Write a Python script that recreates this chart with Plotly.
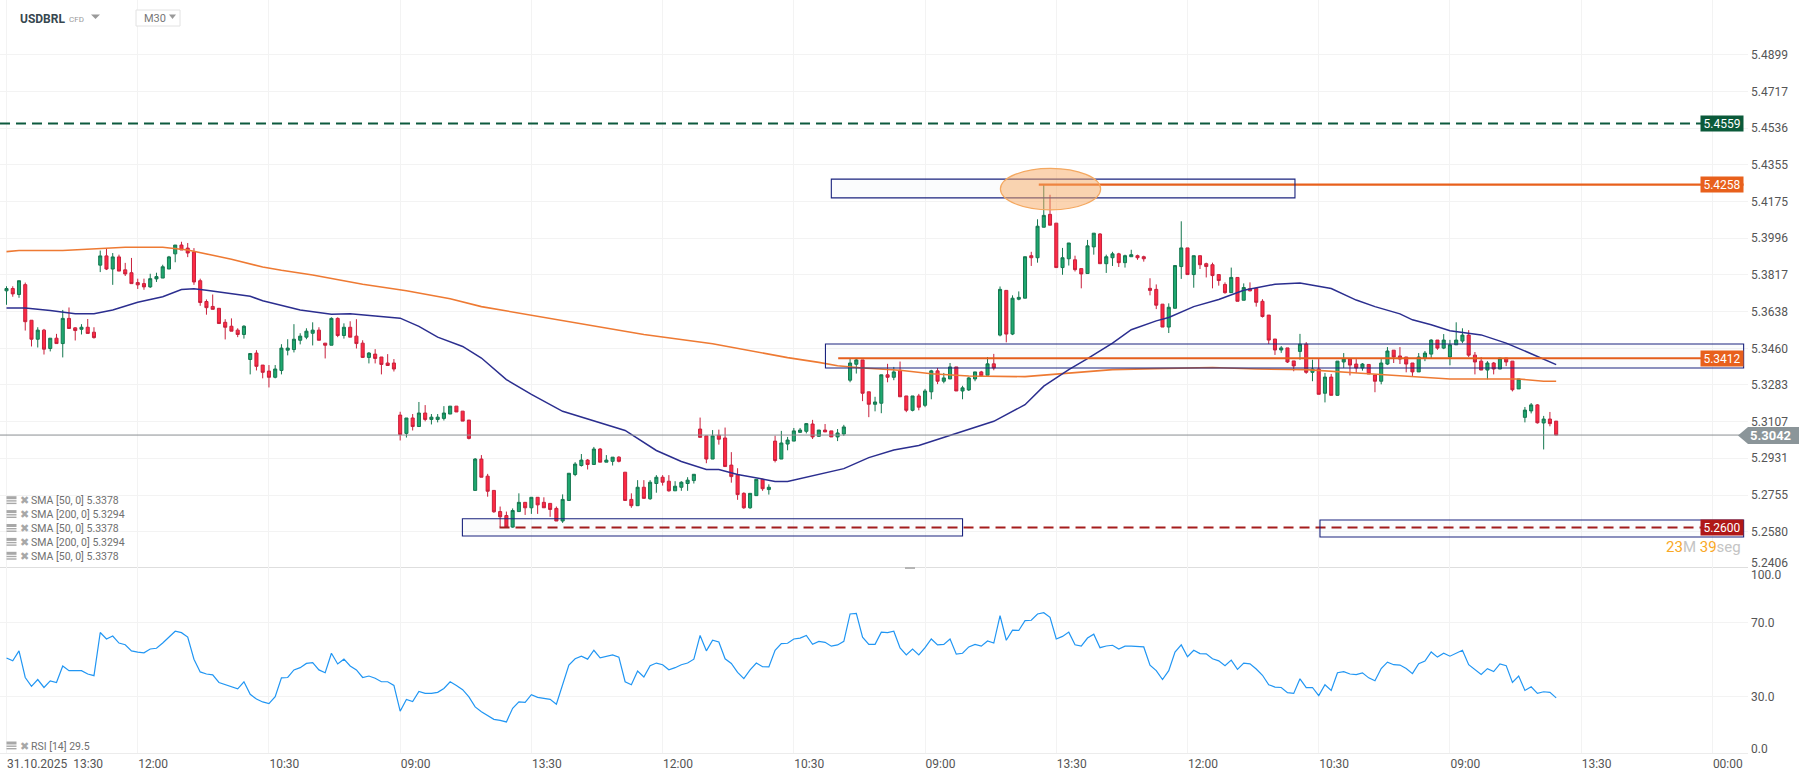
import math
import plotly.graph_objects as go

W, H = 1810, 779

open_ = [
    5.3739,5.3750,5.3721,5.3769,5.3596,5.3504,5.3548,5.3459,5.3509,5.3483,
    5.3605,5.3559,5.3552,5.3562,5.3538,5.3864,5.3909,5.3845,5.3904,5.3841,
    5.3827,5.3779,5.3774,5.3758,5.3797,5.3801,5.3845,5.3919,5.3962,5.3947,
    5.3928,5.3788,5.3687,5.3663,5.3654,5.3586,5.3567,5.3548,5.3527,5.3406,
    5.3437,5.3379,5.3350,5.3320,5.3353,5.3451,5.3454,5.3499,5.3514,5.3533,
    5.3548,5.3485,5.3475,5.3605,5.3522,5.3562,5.3519,5.3485,5.3416,5.3432,
    5.3418,5.3389,5.3389,5.3138,5.3050,5.3124,5.3083,5.3148,5.3117,5.3117,
    5.3122,5.3143,5.3181,5.3157,5.3114,5.2777,5.2927,5.2845,5.2777,5.2676,
    5.2657,5.2602,5.2676,5.2720,5.2694,5.2744,5.2720,5.2715,5.2691,5.2631,
    5.2729,5.2853,5.2896,5.2922,5.2901,5.2975,5.2912,5.2916,5.2936,5.2864,
    5.2734,5.2704,5.2792,5.2737,5.2810,5.2840,5.2821,5.2775,5.2792,5.2810,
    5.2824,5.3071,5.3038,5.2927,5.3041,5.3028,5.2898,5.2850,5.2763,5.2694,
    5.2752,5.2830,5.2781,5.3013,5.2927,5.2999,5.3013,5.3055,5.3060,5.3095,
    5.3036,5.3066,5.3062,5.3033,5.3047,5.3306,5.3383,5.3404,5.3250,5.3190,
    5.3195,5.3332,5.3320,5.3354,5.3230,5.3161,5.3230,5.3185,5.3250,5.3351,
    5.3301,5.3312,5.3370,5.3254,5.3259,5.3312,5.3346,5.3330,5.3385,5.3524,
    5.3741,5.3529,5.3698,5.3703,5.3910,5.3900,5.4049,5.4112,5.4069,5.3852,
    5.3895,5.3890,5.3847,5.3823,5.3953,5.4016,5.3871,5.3900,5.3919,5.3876,
    5.3905,5.3910,5.3905,5.3751,5.3746,5.3674,5.3563,5.3654,5.3857,5.3948,
    5.3818,5.3910,5.3871,5.3866,5.3818,5.3770,5.3730,5.3804,5.3693,5.3749,
    5.3751,5.3688,5.3621,5.3505,5.3452,5.3462,5.3399,5.3445,5.3480,5.3344,
    5.3360,5.3243,5.3321,5.3233,5.3394,5.3408,5.3384,5.3365,5.3382,5.3331,
    5.3301,5.3384,5.3451,5.3423,5.3418,5.3389,5.3346,5.3413,5.3432,5.3500,
    5.3461,5.3418,5.3477,5.3495,5.3524,5.3427,5.3398,5.3355,5.3389,5.3360,
    5.3413,5.3398,5.3264,5.3127,5.3158,5.3187,5.3100,5.3119,5.3109,
]
high = [
    5.3761,5.3761,5.3788,5.3779,5.3596,5.3562,5.3554,5.3509,5.3530,5.3646,
    5.3658,5.3562,5.3577,5.3602,5.3562,5.3935,5.3947,5.3923,5.3915,5.3875,
    5.3899,5.3798,5.3798,5.3822,5.3827,5.3866,5.3909,5.3962,5.3978,5.3972,
    5.3947,5.3798,5.3697,5.3721,5.3654,5.3601,5.3605,5.3557,5.3572,5.3435,
    5.3451,5.3379,5.3379,5.3379,5.3480,5.3504,5.3577,5.3533,5.3557,5.3586,
    5.3562,5.3485,5.3610,5.3610,5.3581,5.3591,5.3601,5.3499,5.3442,5.3456,
    5.3418,5.3432,5.3408,5.3154,5.3124,5.3143,5.3201,5.3186,5.3143,5.3143,
    5.3181,5.3181,5.3181,5.3157,5.3114,5.2932,5.2946,5.2856,5.2777,5.2700,
    5.2676,5.2691,5.2763,5.2720,5.2744,5.2744,5.2744,5.2715,5.2700,5.2758,
    5.2859,5.2912,5.2951,5.2927,5.2985,5.2980,5.2946,5.2936,5.2941,5.2864,
    5.2763,5.2826,5.2826,5.2826,5.2850,5.2850,5.2850,5.2821,5.2821,5.2840,
    5.2854,5.3126,5.3038,5.3066,5.3068,5.3078,5.2960,5.2883,5.2768,5.2763,
    5.2830,5.2830,5.2806,5.3039,5.3062,5.3033,5.3076,5.3076,5.3100,5.3115,
    5.3066,5.3095,5.3062,5.3071,5.3091,5.3409,5.3409,5.3404,5.3250,5.3226,
    5.3332,5.3385,5.3370,5.3396,5.3230,5.3230,5.3240,5.3264,5.3356,5.3365,
    5.3341,5.3389,5.3370,5.3279,5.3322,5.3346,5.3351,5.3418,5.3433,5.3760,
    5.3741,5.3717,5.3736,5.3905,5.3929,5.4088,5.4261,5.4208,5.4069,5.3948,
    5.3972,5.3910,5.3847,5.3987,5.4020,5.4020,5.3915,5.3929,5.3924,5.3915,
    5.3939,5.3915,5.3910,5.3800,5.3770,5.3674,5.3678,5.3862,5.4078,5.3948,
    5.3910,5.3910,5.3876,5.3876,5.3818,5.3780,5.3852,5.3804,5.3775,5.3780,
    5.3751,5.3698,5.3621,5.3505,5.3471,5.3462,5.3399,5.3530,5.3490,5.3405,
    5.3408,5.3341,5.3336,5.3398,5.3437,5.3408,5.3408,5.3389,5.3382,5.3331,
    5.3408,5.3466,5.3451,5.3466,5.3418,5.3389,5.3437,5.3447,5.3504,5.3500,
    5.3529,5.3501,5.3586,5.3557,5.3548,5.3442,5.3418,5.3398,5.3394,5.3413,
    5.3413,5.3398,5.3312,5.3177,5.3196,5.3191,5.3134,5.3153,5.3109,
]
low = [
    5.3671,5.3710,5.3705,5.3546,5.3469,5.3464,5.3430,5.3445,5.3483,5.3416,
    5.3556,5.3498,5.3527,5.3532,5.3507,5.3830,5.3840,5.3768,5.3835,5.3811,
    5.3774,5.3748,5.3744,5.3753,5.3782,5.3801,5.3845,5.3878,5.3938,5.3903,
    5.3768,5.3666,5.3623,5.3649,5.3580,5.3503,5.3543,5.3514,5.3507,5.3334,
    5.3353,5.3315,5.3271,5.3315,5.3334,5.3426,5.3440,5.3479,5.3504,5.3474,
    5.3499,5.3411,5.3475,5.3514,5.3507,5.3514,5.3459,5.3413,5.3387,5.3387,
    5.3334,5.3377,5.3348,5.3016,5.3030,5.3064,5.3083,5.3108,5.3093,5.3103,
    5.3112,5.3143,5.3153,5.3109,5.3021,5.2777,5.2840,5.2747,5.2670,5.2602,
    5.2598,5.2599,5.2676,5.2660,5.2665,5.2665,5.2694,5.2651,5.2631,5.2622,
    5.2729,5.2845,5.2891,5.2877,5.2901,5.2912,5.2912,5.2896,5.2911,5.2729,
    5.2694,5.2704,5.2739,5.2732,5.2766,5.2800,5.2771,5.2775,5.2775,5.2775,
    5.2810,5.3031,5.2907,5.2927,5.2996,5.2891,5.2814,5.2732,5.2689,5.2689,
    5.2752,5.2775,5.2757,5.2911,5.2927,5.2969,5.3013,5.3052,5.3050,5.3023,
    5.3033,5.3057,5.3033,5.3013,5.3038,5.3296,5.3338,5.3205,5.3128,5.3156,
    5.3147,5.3296,5.3306,5.3226,5.3152,5.3156,5.3161,5.3176,5.3214,5.3287,
    5.3291,5.3312,5.3254,5.3214,5.3254,5.3301,5.3322,5.3330,5.3354,5.3518,
    5.3489,5.3524,5.3693,5.3703,5.3860,5.3876,5.4049,5.4059,5.3852,5.3817,
    5.3862,5.3833,5.3751,5.3823,5.3915,5.3871,5.3826,5.3860,5.3855,5.3852,
    5.3905,5.3890,5.3881,5.3717,5.3650,5.3563,5.3534,5.3654,5.3797,5.3818,
    5.3754,5.3845,5.3804,5.3751,5.3764,5.3725,5.3730,5.3688,5.3693,5.3736,
    5.3662,5.3609,5.3481,5.3428,5.3438,5.3389,5.3349,5.3405,5.3337,5.3301,
    5.3238,5.3199,5.3233,5.3231,5.3365,5.3329,5.3341,5.3352,5.3336,5.3248,
    5.3286,5.3379,5.3389,5.3384,5.3344,5.3325,5.3346,5.3398,5.3413,5.3453,
    5.3456,5.3378,5.3477,5.3485,5.3418,5.3334,5.3355,5.3310,5.3334,5.3360,
    5.3374,5.3252,5.3264,5.3103,5.3146,5.3097,5.2973,5.3084,5.3042,
]
close = [
    5.3750,5.3724,5.3788,5.3589,5.3504,5.3548,5.3456,5.3509,5.3483,5.3605,
    5.3556,5.3546,5.3562,5.3532,5.3512,5.3909,5.3845,5.3904,5.3835,5.3821,
    5.3774,5.3768,5.3758,5.3798,5.3808,5.3856,5.3904,5.3962,5.3938,5.3923,
    5.3782,5.3682,5.3657,5.3649,5.3580,5.3562,5.3543,5.3527,5.3567,5.3435,
    5.3373,5.3344,5.3320,5.3360,5.3461,5.3461,5.3504,5.3519,5.3543,5.3548,
    5.3499,5.3475,5.3605,5.3522,5.3562,5.3514,5.3483,5.3416,5.3437,5.3411,
    5.3382,5.3377,5.3360,5.3045,5.3124,5.3083,5.3148,5.3117,5.3128,5.3128,
    5.3148,5.3181,5.3153,5.3109,5.3026,5.2927,5.2840,5.2773,5.2675,5.2651,
    5.2602,5.2681,5.2720,5.2694,5.2744,5.2708,5.2694,5.2686,5.2631,5.2734,
    5.2859,5.2903,5.2922,5.2901,5.2975,5.2912,5.2922,5.2936,5.2916,5.2729,
    5.2704,5.2792,5.2739,5.2816,5.2840,5.2816,5.2775,5.2797,5.2816,5.2826,
    5.2854,5.3031,5.2927,5.3038,5.3022,5.2891,5.2843,5.2757,5.2694,5.2763,
    5.2830,5.2785,5.2792,5.2920,5.3004,5.3018,5.3062,5.3066,5.3097,5.3033,
    5.3066,5.3057,5.3033,5.3052,5.3081,5.3389,5.3404,5.3243,5.3190,5.3201,
    5.3332,5.3320,5.3346,5.3226,5.3161,5.3230,5.3176,5.3254,5.3351,5.3301,
    5.3317,5.3370,5.3254,5.3269,5.3317,5.3346,5.3327,5.3385,5.3365,5.3746,
    5.3529,5.3703,5.3707,5.3905,5.3900,5.4054,5.4107,5.4059,5.3852,5.3900,
    5.3972,5.3842,5.3821,5.3958,5.4020,5.3871,5.3905,5.3919,5.3876,5.3910,
    5.3915,5.3900,5.3895,5.3741,5.3669,5.3563,5.3659,5.3862,5.3948,5.3818,
    5.3910,5.3866,5.3857,5.3813,5.3789,5.3730,5.3804,5.3688,5.3755,5.3739,
    5.3683,5.3614,5.3500,5.3452,5.3462,5.3394,5.3375,5.3480,5.3344,5.3360,
    5.3238,5.3321,5.3233,5.3398,5.3408,5.3379,5.3365,5.3384,5.3336,5.3301,
    5.3389,5.3447,5.3418,5.3408,5.3384,5.3346,5.3418,5.3437,5.3500,5.3461,
    5.3500,5.3477,5.3500,5.3524,5.3427,5.3394,5.3355,5.3389,5.3360,5.3413,
    5.3394,5.3260,5.3312,5.3162,5.3187,5.3101,5.3119,5.3097,5.3042,
]

sma50_bar = [0,3,7,11,14,17,21,25,28,30,32,39,41,47,52,55,59,63,66,69,73,76,80,84,89,99,104,108,112,
             114,117,123,125,129,134,138,142,146,154,158,163,166,170,173,177,180,184,186,190,194,198,
             203,207,212,216,219,223,225,228,231,236,240,244,248]
sma50 = [5.3655,5.3655,5.3643,5.3628,5.3628,5.3646,5.3683,5.3710,5.3745,5.3749,5.3742,5.3712,5.3691,
         5.3646,5.3625,5.3628,5.3617,5.3606,5.3566,5.3514,5.3469,5.3413,5.3309,5.3238,5.3156,5.3064,
         5.2968,5.2915,5.2877,5.2877,5.2853,5.2820,5.2820,5.2848,5.2881,5.2934,5.2970,5.2992,5.3068,
         5.3108,5.3188,5.3277,5.3357,5.3410,5.3485,5.3550,5.3593,5.3609,5.3662,5.3697,5.3742,5.3771,
         5.3777,5.3750,5.3694,5.3662,5.3627,5.3598,5.3574,5.3545,5.3525,5.3485,5.3434,5.3381]

sma200_bar = [0,2,9,15,19,25,29,33,36,41,44,49,54,57,64,71,76,84,91,102,113,119,125,130,133,137,143,
              148,154,163,169,177,184,193,200,208,218,226,231,242,246,248]
sma200 = [5.3930,5.3935,5.3935,5.3945,5.3951,5.3951,5.3938,5.3912,5.3893,5.3855,5.3839,5.3816,5.3787,
          5.3771,5.3739,5.3700,5.3662,5.3620,5.3582,5.3527,5.3482,5.3448,5.3415,5.3392,5.3376,5.3365,
          5.3354,5.3337,5.3326,5.3323,5.3337,5.3357,5.3362,5.3367,5.3360,5.3357,5.3337,5.3321,5.3312,
          5.3312,5.3301,5.3301]

rsi = [
    51.0,49.5,54.9,40.5,35.7,39.4,35.1,38.7,37.8,46.7,44.2,44.2,44.2,42.4,41.5,64.8,61.3,62.9,59.1,58.2,
    54.9,54.2,53.8,55.9,56.3,59.1,62.3,65.5,64.7,62.3,50.4,43.5,42.4,41.9,37.8,36.7,35.7,34.4,38.2,31.4,
    28.9,27.3,26.4,30.2,40.3,40.5,44.6,45.8,48.1,48.5,44.6,43.1,53.6,47.8,50.4,46.7,44.6,40.5,41.3,40.1,
    38.2,38.2,36.2,22.3,28.6,27.5,33.0,31.9,31.9,32.5,34.6,38.2,36.2,33.9,30.0,24.6,22.0,20.0,17.9,17.3,
    16.5,23.9,27.3,27.1,31.2,29.8,29.3,28.7,26.1,36.6,47.2,50.6,52.0,50.4,55.2,51.1,51.7,52.7,51.5,38.2,
    36.6,44.0,40.8,46.9,48.3,47.4,44.7,45.8,47.4,48.3,50.4,63.2,54.9,60.6,59.7,50.6,48.1,43.3,39.9,44.6,
    48.3,46.3,46.2,55.2,58.8,59.0,61.3,61.8,63.2,58.4,60.0,59.5,57.4,58.1,60.0,74.8,75.1,62.3,58.4,58.4,
    65.0,64.7,65.5,56.5,52.7,55.8,52.7,56.6,61.3,58.1,58.4,61.3,53.1,53.6,57.0,58.4,57.4,60.2,59.1,73.9,
    60.6,66.1,65.9,71.2,71.4,74.8,75.5,73.0,61.3,62.7,65.0,58.2,57.4,61.8,63.9,56.6,57.5,57.9,55.9,57.4,
    57.4,57.0,57.0,47.2,44.2,39.4,44.2,54.2,58.1,51.7,55.2,53.4,53.3,50.6,49.5,46.9,49.9,44.9,48.3,47.9,
    45.1,41.7,36.6,35.3,35.1,32.3,31.9,39.8,35.0,35.1,30.7,36.6,33.5,43.1,43.7,42.4,42.1,43.0,40.3,38.7,
    45.3,48.8,47.4,47.2,45.3,42.6,47.9,49.4,54.3,51.5,53.6,52.0,53.6,55.2,47.4,44.9,42.1,45.3,43.7,47.8,
    46.9,37.8,41.3,33.5,35.5,31.9,32.8,32.5,29.5,
]

price_ticks = [5.4899,5.4717,5.4536,5.4355,5.4175,5.3996,5.3817,5.3638,5.3460,5.3283,5.3107,5.2931,5.2755,5.2580]
rsi_ticks = [70, 30]
time_bars = [0,21,42,63,84,105,126,147,168,189,210,231,252,273]
time_labels = ["31.10.2025 &nbsp;13:30","12:00","10:30","09:00","13:30","12:00","10:30","09:00",
               "13:30","12:00","10:30","09:00","13:30","00:00"]
legend_rows = ["SMA [50, 0] 5.3378","SMA [200, 0] 5.3294","SMA [50, 0] 5.3378","SMA [200, 0] 5.3294","SMA [50, 0] 5.3378"]

resistance = 5.4559
level_high = 5.4258
level_mid = 5.3412
level_low = 5.2600
last_price = 5.3042

X0, X1 = -1.04, 278.7
BLUE = "#1a237e"
ORANGE = "#e8601c"
GREY = "#5f6368"


def px(x):
    return x / W


def py(y):
    return 1 - y / H


fig = go.Figure()
fig.add_trace(go.Candlestick(
    x=list(range(len(close))), open=open_, high=high, low=low, close=close,
    increasing=dict(line=dict(color="#14774f", width=1), fillcolor="#1fa870"),
    decreasing=dict(line=dict(color="#c8203c", width=1), fillcolor="#fd2b44"),
    xaxis="x", yaxis="y", showlegend=False,
))
fig.add_trace(go.Scatter(x=sma200_bar, y=sma200, mode="lines", line=dict(color="#ee7a33", width=1.6),
                         xaxis="x", yaxis="y", showlegend=False))
fig.add_trace(go.Scatter(x=sma50_bar, y=sma50, mode="lines", line=dict(color="#2b2e8f", width=1.5),
                         xaxis="x", yaxis="y", showlegend=False))
fig.add_trace(go.Scatter(x=list(range(len(rsi))), y=rsi, mode="lines", line=dict(color="#2196f3", width=1.2),
                         xaxis="x2", yaxis="y2", showlegend=False))

shapes = []


def level(y, x0, color, width=2, dash="solid"):
    shapes.append(dict(type="line", xref="x", yref="y", x0=x0, x1=278, y0=y, y1=y,
                       line=dict(color=color, width=width, dash=dash)))


def box(x0, x1, y0, y1):
    shapes.append(dict(type="rect", xref="x", yref="y", x0=x0, x1=x1, y0=y0, y1=y1,
                       line=dict(color=BLUE, width=1.1), fillcolor="rgba(26,35,126,0.015)"))


level(last_price, X0, "#8a8f92", 1)
level(resistance, X0, "#0d5a3e", 2, "10px,6px")
level(level_high, 165.2, ORANGE, 2.2)
level(level_mid, 133.1, ORANGE, 2.2)
level(level_low, 78.9, "#a51d1d", 2, "10px,6px")

box(132, 206.2, 5.4193, 5.4285)
box(131.06, 278, 5.3365, 5.3481)
box(72.96, 153, 5.2560, 5.2642)
box(210.2, 278, 5.2555, 5.2636)

# highlighted top
shapes.append(dict(type="circle", xref="x", yref="y", x0=159.06, x1=175.1, y0=5.4134, y1=5.4338,
                   line=dict(color="#f4a860", width=1.2), fillcolor="rgba(247,170,100,0.5)"))

# pane divider handle
shapes.append(dict(type="rect", xref="paper", yref="paper", x0=px(905), x1=px(915), y0=py(569), y1=py(567),
                   line=dict(width=0), fillcolor="#b5b5b5"))
# M30 box
shapes.append(dict(type="rect", xref="paper", yref="paper", x0=px(136), x1=px(180), y0=py(26), y1=py(10),
                   line=dict(color="#e2e2e2", width=1), fillcolor="white"))
# small dropdown triangles
for tx, tw in ((91, 9), (169, 7)):
    shapes.append(dict(type="path", xref="paper", yref="paper", line=dict(width=0), fillcolor="#9a9a9a",
                       path=f"M {px(tx)},{py(14.5)} L {px(tx + tw)},{py(14.5)} L {px(tx + tw / 2)},{py(19)} Z"))
# current price tag
shapes.append(dict(type="path", xref="paper", yref="paper", line=dict(width=0), fillcolor="#8b9599",
                   path=f"M {px(1738)},{py(435.5)} L {px(1748)},{py(427)} L {px(1799)},{py(427)} "
                        f"L {px(1799)},{py(444)} L {px(1748)},{py(444)} Z"))


def legend_icon(y):
    # stacked-bars glyph in front of each indicator row
    for top, tall in ((-4.5, 3), (-0.5, 1.4), (2, 1.4)):
        shapes.append(dict(type="rect", xref="paper", yref="paper", line=dict(width=0), fillcolor="#a8a8a8",
                           x0=px(6.5), x1=px(16.5), y0=py(y + top + tall), y1=py(y + top)))


ann = []


def note(x, y, text, size=11, color=GREY, anchor="left", **kw):
    ann.append(dict(xref="paper", yref="paper", x=px(x), y=py(y), text=text, showarrow=False,
                    xanchor=anchor, yanchor="middle", font=dict(family="Roboto", size=size, color=color), **kw))


def tag(y, text, color):
    # log axis: annotations take the log of the price
    ann.append(dict(xref="paper", yref="y", x=px(1744), y=math.log10(y), text=text, showarrow=False,
                    xanchor="right", yanchor="middle", width=42, height=15, bgcolor=color, borderpad=0,
                    font=dict(family="Roboto", size=12, color="white")))


tag(resistance, "5.4559", "#0b5a3a")
tag(level_high, "5.4258", "#e8601c")
tag(level_mid, "5.3412", "#e8601c")
tag(level_low, "5.2600", "#b01818")

note(18, 19, "<b>USDBRL</b>", 12, "#37474f")
note(67, 20, "CFD", 8, "#9a9a9a")
note(142, 18.5, "M30", 11, "#777777")
note(1748, 435.5, "<b>5.3042</b>", 13, "white")
note(1743, 547, '<span style="color:#f9a825">23</span>M <span style="color:#f9a825">39</span>seg', 15,
     "#c4c4c4", "right")
note(1749, 562.5, "5.2406", 12, "#555555")
note(1749, 574.5, "100.0", 12, "#555555")
note(1749, 749, "0.0", 12, "#555555")

for row, text in enumerate(legend_rows):
    y = 500.7 + row * 13.9
    legend_icon(y)
    note(18, y, "✖", 11, "#a8a8a8")
    note(29, y, text, 10.5, "#707070")
legend_icon(746)
note(18, 746, "✖", 11, "#a8a8a8")
note(29, 746, "RSI [14] 29.5", 10.5, "#707070")

price_bottom, price_top = 5.2411, 5.5172
GRID = "#f3f3f3"

fig.update_layout(
    width=W, height=H,
    margin=dict(l=0, r=0, t=0, b=0),
    paper_bgcolor="white", plot_bgcolor="white",
    showlegend=False, shapes=shapes, annotations=ann,
    font=dict(family="Roboto", color="#555555"),
    xaxis=dict(domain=[0, 1748 / W], range=[X0, X1], anchor="y", tickmode="array", tickvals=time_bars,
               showticklabels=False, gridcolor=GRID, gridwidth=1, zeroline=False, showline=True,
               linecolor="#dedede", rangeslider=dict(visible=False)),
    yaxis=dict(domain=[py(567.3), 1], type="log", range=[math.log10(price_bottom), math.log10(price_top)],
               side="right", anchor="x", tickmode="array", tickvals=price_ticks + [5.2406],
               ticktext=[f"{t:.4f}" for t in price_ticks] + [""], tickfont=dict(size=12, color="#555555"),
               gridcolor=GRID, gridwidth=1, zeroline=False, ticklen=0, ticklabelstandoff=2),
    xaxis2=dict(domain=[0, 1748 / W], range=[X0, X1], anchor="y2", tickmode="array", tickvals=time_bars,
                ticktext=time_labels, ticklabelposition="outside right", tickfont=dict(size=12, color="#555555"),
                gridcolor=GRID, gridwidth=1, zeroline=False, showline=True, linecolor="#ececec", ticklen=0),
    yaxis2=dict(domain=[py(752.5), py(567.3)], range=[0, 100], side="right", anchor="x2", tickmode="array",
                tickvals=rsi_ticks, ticktext=["70.0", "30.0"], tickfont=dict(size=12, color="#555555"),
                gridcolor=GRID, gridwidth=1, zeroline=False, ticklen=0, ticklabelstandoff=2),
)

fig.write_html("out.html", config={"displayModeBar": False}, post_script="document.body.style.margin='0';")
